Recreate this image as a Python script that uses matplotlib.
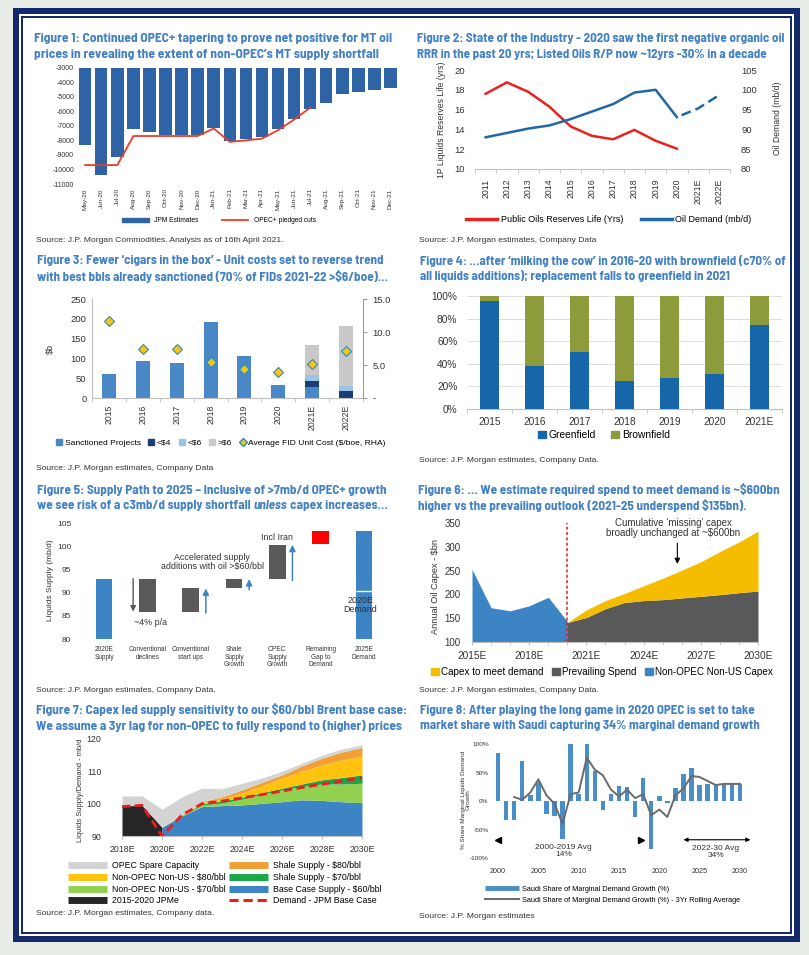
import numpy as np
import matplotlib
matplotlib.use('Agg')
import matplotlib.pyplot as plt
from matplotlib.patches import Rectangle, Patch
from matplotlib.lines import Line2D
from matplotlib import font_manager

plt.rcParams['font.family'] = ['Liberation Sans', 'DejaVu Sans']
plt.rcParams['axes.unicode_minus'] = False

# ---------------- data ----------------
f1_months = ['May-20', 'Jun-20', 'Jul-20', 'Aug-20', 'Sep-20', 'Oct-20', 'Nov-20', 'Dec-20',
             'Jan-21', 'Feb-21', 'Mar-21', 'Apr-21', 'May-21', 'Jun-21', 'Jul-21', 'Aug-21',
             'Sep-21', 'Oct-21', 'Nov-21', 'Dec-21']
f1_jpm = [-8300, -10350, -9150, -7200, -7450, -7600, -7600, -7600, -7150, -8070, -7920, -7750,
          -7250, -6500, -5870, -5430, -4830, -4670, -4560, -4400]
f1_opec = [-9700, -9700, -9700, -7700, -7700, -7700, -7700, -7700, -7180, -8100, -8000, -7880,
           -7300, -6570, -5750]

f2_years = ['2011', '2012', '2013', '2014', '2015', '2016', '2017', '2018', '2019', '2020',
            '2021E', '2022E']
f2_life = [17.6, 18.75, 17.8, 16.3, 14.3, 13.35, 13.0, 13.95, 12.85, 12.05]
f2_demand = [88.0, 89.1, 90.2, 91.0, 92.6, 94.5, 96.4, 99.3, 100.0, 93.1]
f2_demand_fc = [93.1, 95.3, 98.7]

f3_years = ['2015', '2016', '2017', '2018', '2019', '2020', '2021E', '2022E']
f3_sanctioned = [60, 94, 88, 191, 106, 33, 29, 0]
f3_lt4 = [0, 0, 0, 0, 0, 0, 13, 18]
f3_lt6 = [0, 0, 0, 0, 0, 0, 17, 13]
f3_gt6 = [0, 0, 0, 0, 0, 0, 74, 150]
f3_cost = [11.7, 7.35, 7.45, 5.5, 4.4, 3.9, 5.2, 7.05]

f4_years = ['2015', '2016', '2017', '2018', '2019', '2020', '2021E']
f4_green = [0.96, 0.383, 0.504, 0.245, 0.277, 0.307, 0.746]
f4_brown = [0.04, 0.617, 0.496, 0.755, 0.723, 0.693, 0.254]

f5_cats = ['2020E\nSupply', 'Conventional\ndeclines', 'Conventional\nstart ups',
           'Shale\nSupply\nGrowth', 'OPEC\nSupply\nGrowth', 'Remaining\nGap to\nDemand',
           '2025E\nDemand']
f5_low = [80, 85.9, 85.9, 90.9, 92.9, 100.5, 80]
f5_high = [93.0, 93.0, 90.9, 92.9, 100.3, 103.2, 103.2]
f5_2020_demand = 90.3

f6_hist_years = [2015, 2016, 2017, 2018, 2019, 2020]
f6_nonopec = [252.5, 172, 165.5, 176, 194, 143]
f6_fc_years = [2020, 2021, 2022, 2023, 2024, 2025, 2026, 2027, 2028, 2029, 2030]
f6_prevailing = [141, 151.5, 170, 183, 187, 189, 192.5, 196, 199.5, 203.7, 207]
f6_required = [141, 167.5, 187, 202, 218, 233.7, 251, 268.5, 290, 310, 333]

nan = np.nan
f7_years = [2018, 2019, 2020, 2021, 2022, 2023, 2024, 2025, 2026, 2027, 2028, 2029, 2030]
f7_jpme = [99.3, 99.5, 92.7, nan, nan, nan, nan, nan, nan, nan, nan, nan, nan]
f7_base = [nan, nan, 92.7, 96.2, 99.1, 99.4, 99.6, 100.1, 100.6, 101.2, 101.0, 100.6, 100.3]
f7_nonopec70 = [0, 0, 0, 0.1, 0.5, 0.8, 1.8, 2.8, 3.7, 4.1, 5.1, 5.5, 6.0]
f7_shale70 = [0, 0, 0, 0.1, 0.4, 0.6, 0.6, 0.5, 0.5, 0.8, 1.3, 2.0, 2.6]
f7_nonopec80 = [0, 0, 0, 0.1, 0.4, 0.7, 1.3, 2.1, 3.1, 3.9, 4.6, 5.4, 5.7]
f7_shale80 = [0, 0, 0, 0.1, 0.3, 0.6, 1.0, 1.1, 1.0, 1.7, 2.1, 2.5, 2.8]
f7_spare = [3.1, 2.9, 5.6, 5.5, 4.1, 2.5, 2.0, 1.3, 1.1, 0.8, 0.9, 0.9, 0.8]
f7_demand = [99.1, 99.5, 90.0, 96.5, 100.0, 100.8, 101.8, 102.8, 103.9, 105.0, 106.0, 107.0, 108.0]

f8_years = list(range(2000, 2031))
f8_share = [84, -33, -33, 70, 11, 33, -23, -27, -67, 100, 13, 100, 52, -15, 13, 26, 24, -28,
            40, -85, 8, -3, 22, 48, 58, 28, 30, 30, 30, 30, 30]
f8_roll_years = list(range(2002, 2031))
f8_roll = [7, 2, 15, 38, 10, -5, -40, 12, 15, 76, 55, 45, 20, 8, 20, 5, 12, -25, -15, -28,
           10, 22, 44, 42, 35, 28, 30, 30, 30]

# ---------------- layout helpers ----------------
W, H = 809, 955
fig = plt.figure(figsize=(W / 100, H / 100), dpi=100)
fig.patch.set_facecolor('#e8ede8')
R = fig.canvas.get_renderer()
TXT = '#333333'
TITLE_C = '#4381c5'

_fonts = {(f.name, f.weight) for f in font_manager.fontManager.ttflist}
if ('Liberation Sans Narrow', 700) in _fonts:
    TITLE_FONT = ['Liberation Sans Narrow', 'DejaVu Sans']
elif ('Barlow Semi Condensed', 700) in _fonts:
    TITLE_FONT = ['Barlow Semi Condensed', 'DejaVu Sans']
else:
    TITLE_FONT = ['Asap Condensed', 'Liberation Sans', 'DejaVu Sans']


def box(x0, y0, x1, y1):
    return [x0 / W, 1 - y1 / H, (x1 - x0) / W, (y1 - y0) / H]


def rect(x0, y0, x1, y1, color, z):
    fig.patches.append(Rectangle((x0 / W, 1 - y1 / H), (x1 - x0) / W, (y1 - y0) / H,
                                 transform=fig.transFigure, facecolor=color,
                                 edgecolor='none', zorder=z))


def ftext(x, y, s, size, **kw):
    kw.setdefault('color', TXT)
    kw.setdefault('va', 'center')
    return fig.text(x / W, 1 - y / H, s, fontsize=size, **kw)


def twidth(s, size, style='normal'):
    t = fig.text(0, 0, s, fontsize=size, fontweight='bold', family=TITLE_FONT, fontstyle=style)
    w = t.get_window_extent(R).width
    t.remove()
    return w


NAVY = '#13296c'
rect(13, 8, 800, 942, NAVY, -10)
rect(19, 14, 794, 936, 'white', -9)
rect(21, 16, 792, 934, NAVY, -8)
rect(23, 18, 790, 932, 'white', -7)


def fit(s, width):
    return min(10 * width / twidth(s, 10), 10.2)


def title(x, y, l1, l2, ref_line, ref_width):
    size = fit(ref_line, ref_width)
    for yy, s in ((y, l1), (y + 15.5, l2)):
        ftext(x, yy, s, size, fontweight='bold', color=TITLE_C, family=TITLE_FONT)
    return size


def plain(ax):
    for s in ax.spines.values():
        s.set_visible(False)
    ax.set_facecolor('none')


_l = ('Figure 1: Continued OPEC+ tapering to prove net positive for MT oil',
      'prices in revealing the extent of non-OPEC’s MT supply shortfall')
title(34, 39, _l[0], _l[1], _l[0], 358)
_l = ('Figure 2: State of the Industry - 2020 saw the first negative organic oil',
      'RRR in the past 20 yrs; Listed Oils R/P now ~12yrs -30% in a decade')
title(417, 39, _l[0], _l[1], _l[0], 367)
_l = ('Figure 3: Fewer ‘cigars in the box’ - Unit costs set to reverse trend',
      'with best bbls already sanctioned (70% of FIDs 2021-22 >\\$6/boe)…')
title(37, 261, _l[0], _l[1], _l[0], 347)
_l = ('Figure 4: …after ‘milking the cow’ in 2016-20 with brownfield (c70% of',
      'all liquids additions); replacement falls to greenfield in 2021')
title(420, 261, _l[0], _l[1], _l[0], 364)
# figure 5 title with italic word
_l5 = 'Figure 5: Supply Path to 2025 – Inclusive of >7mb/d OPEC+ growth'
S5 = fit(_l5, 349)
ftext(37, 490, _l5, S5, fontweight='bold', color=TITLE_C, family=TITLE_FONT)
_sp = twidth('x x', S5) - twidth('xx', S5)
_cur = 37
for _s, _st in (('we see risk of a c3mb/d supply shortfall', 'normal'), ('unless', 'italic'),
                ('capex increases…', 'normal')):
    ftext(_cur, 505.5, _s, S5, fontweight='bold', color=TITLE_C, family=TITLE_FONT,
          fontstyle=_st)
    _cur += twidth(_s, S5, _st) + _sp
_l = ('Figure 6: … We estimate required spend to meet demand is ~\\$600bn',
      'higher vs the prevailing outlook (2021-25 underspend \\$135bn).')
title(418, 490, _l[0], _l[1], _l[0], 360)
_l = ('Figure 7: Capex led supply sensitivity to our \\$60/bbl Brent base case:',
      'We assume a 3yr lag for non-OPEC to fully respond to (higher) prices')
title(36, 710, _l[0], _l[1], _l[1], 366)
_l = ('Figure 8: After playing the long game in 2020 OPEC is set to take',
      'market share with Saudi capturing 34% marginal demand growth')
title(420, 710, _l[0], _l[1], _l[1], 340)

# sources
ftext(36, 241, 'Source: J.P. Morgan Commodities. Analysis as of 16th April 2021.', 6.1)
ftext(419, 241, 'Source: J.P. Morgan estimates, Company Data', 6.1)
ftext(36, 468, 'Source: J.P. Morgan estimates, Company Data', 6.1)
ftext(419, 461, 'Source: J.P. Morgan estimates, Company Data.', 6.1)
ftext(36, 691, 'Source: J.P. Morgan estimates, Company Data.', 6.1)
ftext(419, 691, 'Source: J.P. Morgan estimates, Company Data.', 6.1)
ftext(36, 913, 'Source: J.P. Morgan estimates, Company data.', 6.1)
ftext(419, 916, 'Source: J.P. Morgan estimates', 6.1)

# ---------------- Figure 1 ----------------
C1_BAR, C1_LINE = '#2e64a6', '#ee3b24'
ax1 = fig.add_axes(box(75.5, 67.7, 398.5, 184))
plain(ax1)
x1 = np.arange(len(f1_months))
ax1.bar(x1, f1_jpm, width=0.78, color=C1_BAR)
ax1.plot(x1[:len(f1_opec)], f1_opec, color=C1_LINE, lw=1.3)
ax1.set_xlim(-0.6, len(f1_months) - 0.5)
ax1.set_ylim(-11000, -3000)
yt = list(range(-11000, -2999, 1000))
ax1.set_yticks(yt)
ax1.set_yticklabels([str(v) for v in yt])
ax1.set_xticks(x1)
ax1.set_xticklabels(f1_months, rotation=90)
ax1.tick_params(length=0, labelsize=5, colors=TXT)
ax1.tick_params(axis='y', pad=1)
ax1.tick_params(axis='x', labelsize=4.6, pad=3)
ax1.legend([Patch(color=C1_BAR), Line2D([], [], color=C1_LINE, lw=1.3)],
           ['JPM Estimates', 'OPEC+ pledged cuts'], loc='center',
           bbox_to_anchor=(219 / W, 1 - 221 / H), bbox_transform=fig.transFigure, ncol=2,
           frameon=False, fontsize=4.8, handlelength=4, handleheight=0.5, columnspacing=3.5)

# ---------------- Figure 2 ----------------
C2_RED, C2_BLUE = '#e8231d', '#1f68a6'
ax2 = fig.add_axes(box(475, 70, 730, 169))
plain(ax2)
n2 = len(f2_years)
ax2.plot(range(len(f2_life)), f2_life, color=C2_RED, lw=1.8)
ax2.set_xlim(-0.5, n2 - 0.5)
ax2.set_ylim(10, 20)
ax2.set_yticks(range(10, 21, 2))
ax2.set_xticks(range(n2))
ax2.set_xticklabels(f2_years, rotation=90)
ax2.set_xticks(np.arange(-0.5, n2), minor=True)
ax2.spines['bottom'].set_visible(True)
ax2.spines['bottom'].set_color('#bfbfbf')
ax2.tick_params(axis='x', which='major', length=0, labelsize=6.3, colors=TXT, pad=7)
ax2.tick_params(axis='x', which='minor', length=3, color='#bfbfbf')
ax2.tick_params(axis='y', length=0, labelsize=6.8, colors=TXT, pad=7)
ax2b = ax2.twinx()
plain(ax2b)
ax2b.plot(range(len(f2_demand)), f2_demand, color=C2_BLUE, lw=1.8)
ax2b.plot(range(len(f2_demand) - 1, n2), f2_demand_fc, color=C2_BLUE, lw=1.8,
          linestyle=(4, (4, 2)))
ax2b.set_ylim(80, 105)
ax2b.set_yticks(range(80, 106, 5))
ax2b.tick_params(axis='y', length=0, labelsize=6.8, colors=TXT, pad=8)
ftext(441, 120, '1P Liquids Reserves Life (yrs)', 6.2, rotation=90, ha='center')
ftext(777, 118, 'Oil Demand (mb/d)', 6.2, rotation=90, ha='center')
ax2.legend([Line2D([], [], color=C2_RED, lw=2.5), Line2D([], [], color=C2_BLUE, lw=2.5)],
           ['Public Oils Reserves Life (Yrs)', 'Oil Demand (mb/d)'], loc='center',
           bbox_to_anchor=(609 / W, 1 - 220 / H), bbox_transform=fig.transFigure, ncol=2,
           frameon=False, fontsize=6.5, handlelength=3.4, columnspacing=2.0,
           handletextpad=0.4)

# ---------------- Figure 3 ----------------
C3 = ['#4a87c6', '#1b3d73', '#9dc3e6', '#c9c9c9']
C3_DIA, C3_DIA_E = '#f5c518', '#2a8cc0'
ax3 = fig.add_axes(box(92, 299, 363, 398))
plain(ax3)
x3 = np.arange(len(f3_years))
bot = np.zeros(len(x3))
for vals, col in zip((f3_sanctioned, f3_lt4, f3_lt6, f3_gt6), C3):
    ax3.bar(x3, vals, 0.41, bottom=bot, color=col)
    bot = bot + np.array(vals)
ax3.set_xlim(-0.5, len(x3) - 0.5)
ax3.set_ylim(0, 250)
ax3.set_yticks(range(0, 251, 50))
ax3.set_xticks(x3)
ax3.set_xticklabels(f3_years, rotation=90)
ax3.set_xticks(np.arange(-0.5, len(x3)), minor=True)
for s in ('left', 'bottom'):
    ax3.spines[s].set_visible(True)
    ax3.spines[s].set_color('#bfbfbf')
ax3.tick_params(axis='y', length=0, labelsize=6.8, colors=TXT, pad=4)
ax3.tick_params(axis='x', which='major', length=0, labelsize=6.2, colors=TXT, pad=5)
ax3.tick_params(axis='x', which='minor', length=3, color='#bfbfbf')
ax3b = ax3.twinx()
plain(ax3b)
ax3b.spines['right'].set_visible(True)
ax3b.spines['right'].set_color('#9a9a9a')
ax3b.plot(x3, f3_cost, linestyle='none', marker='D', ms=5, mfc=C3_DIA, mec=C3_DIA_E, mew=0.8)
ax3b.set_ylim(0, 15)
ax3b.set_yticks([0, 5, 10, 15])
ax3b.set_yticklabels(['-', '5.0', '10.0', '15.0'])
ax3b.tick_params(axis='y', length=3, color='#9a9a9a', labelsize=6.8, colors=TXT, pad=4)
ftext(50, 349, '\\$b', 6.5, rotation=90, ha='center')
ax3.legend([Patch(color=c) for c in C3] +
           [Line2D([], [], linestyle='none', marker='D', ms=4, mfc=C3_DIA, mec=C3_DIA_E)],
           ['Sanctioned Projects', '<\\$4', '<\\$6', '>\\$6',
            'Average FID Unit Cost (\\$/boe, RHA)'], loc='center',
           bbox_to_anchor=(221 / W, 1 - 443 / H), bbox_transform=fig.transFigure, ncol=5,
           frameon=False, fontsize=6.1, handlelength=0.7, handleheight=0.7,
           columnspacing=0.9, handletextpad=0.3)

# ---------------- Figure 4 ----------------
C4_G, C4_B = '#1766a9', '#8d9b3a'
ax4 = fig.add_axes(box(467, 296, 782, 409))
plain(ax4)
x4 = np.arange(len(f4_years))
ax4.bar(x4, f4_green, 0.44, color=C4_G, zorder=3)
ax4.bar(x4, f4_brown, 0.44, bottom=f4_green, color=C4_B, zorder=3)
ax4.set_xlim(-0.5, len(x4) - 0.5)
ax4.set_ylim(0, 1)
ax4.set_yticks(np.arange(0, 1.01, 0.2))
ax4.set_yticklabels(['0%', '20%', '40%', '60%', '80%', '100%'])
ax4.set_xticks(x4)
ax4.set_xticklabels(f4_years)
ax4.set_xticks(np.arange(-0.5, len(x4)), minor=True)
ax4.yaxis.grid(True, color='#d9d9d9', lw=0.6, zorder=0)
ax4.spines['bottom'].set_visible(True)
ax4.spines['bottom'].set_color('#bfbfbf')
ax4.tick_params(axis='y', length=0, labelsize=7.3, colors=TXT, pad=7)
ax4.tick_params(axis='x', which='major', length=0, labelsize=7.3, colors=TXT, pad=6)
ax4.tick_params(axis='x', which='minor', length=3, color='#bfbfbf')
ax4.legend([Patch(color=C4_G), Patch(color=C4_B)], ['Greenfield', 'Brownfield'],
           loc='center', bbox_to_anchor=(604 / W, 1 - 435 / H),
           bbox_transform=fig.transFigure, ncol=2, frameon=False, fontsize=7.4,
           handlelength=0.7, handleheight=0.7, columnspacing=1.5, handletextpad=0.3)

# ---------------- Figure 5 ----------------
C5_BLUE, C5_GRAY, C5_RED = '#3d84c4', '#595959', '#ff0000'
ax5 = fig.add_axes(box(82.5, 523, 385.5, 639))
plain(ax5)
x5 = np.arange(len(f5_cats))
c5 = [C5_BLUE, C5_GRAY, C5_GRAY, C5_GRAY, C5_GRAY, C5_RED, C5_BLUE]
ax5.bar(x5, np.array(f5_high) - np.array(f5_low), 0.38, bottom=f5_low, color=c5)
ax5.hlines(f5_2020_demand, x5[-1] - 0.19, x5[-1] + 0.19, color='white', lw=1)
ax5.set_xlim(-0.5, len(x5) - 0.5)
ax5.set_ylim(80, 105)
ax5.set_yticks(range(80, 106, 5))
ax5.set_xticks(x5)
ax5.set_xticklabels(f5_cats, linespacing=1.15)
ax5.tick_params(axis='y', length=0, labelsize=6, colors=TXT, pad=8)
ax5.tick_params(axis='x', length=0, labelsize=4.7, colors=TXT, pad=5)
ax5.annotate('', xy=(1 - 0.33, f5_low[1]), xytext=(1 - 0.33, f5_high[1]),
             arrowprops=dict(arrowstyle='-|>', color=C5_GRAY, lw=1, mutation_scale=8,
                             shrinkA=0, shrinkB=0))
for i in (2, 3, 4):
    ax5.annotate('', xy=(i + 0.35, f5_high[i]), xytext=(i + 0.35, f5_low[i] - 0.3),
                 arrowprops=dict(arrowstyle='-|>', color=C5_BLUE, lw=1.1, mutation_scale=9,
                                 shrinkA=0, shrinkB=0))
ax5.text(4, 101.9, 'Incl Iran', fontsize=6.4, color=TXT, ha='center', va='center')
ax5.text(2.5, 96.6, 'Accelerated supply\nadditions with oil >\\$60/bbl', fontsize=6.4,
         color=TXT, ha='center', va='center', linespacing=1.0)
ax5.text(1.07, 83.5, '~4% p/a', fontsize=6.4, color=TXT, ha='center', va='center')
ax5.text(5.92, 87.4, '2020E\nDemand', fontsize=6.4, color=TXT, ha='center', va='center',
         linespacing=1.0)
ftext(51, 580, 'Liquids Supply (mb/d)', 6, rotation=90, ha='center')

# ---------------- Figure 6 ----------------
C6_Y, C6_G, C6_B = '#f5bd00', '#595959', '#3d84c4'
ax6 = fig.add_axes(box(472, 523, 758, 642))
plain(ax6)
ax6.fill_between(f6_hist_years, 100, f6_nonopec, color=C6_B, lw=0)
ax6.fill_between(f6_fc_years, 100, f6_prevailing, color=C6_G, lw=0)
ax6.fill_between(f6_fc_years, f6_prevailing, f6_required, color=C6_Y, lw=0)
ax6.axvline(f6_fc_years[0], color='#e02020', lw=1.1, dashes=(2, 1.5))
ax6.set_xlim(2015, 2030)
ax6.set_ylim(100, 350)
ax6.set_yticks(range(100, 351, 50))
ax6.set_xticks(range(2015, 2031, 3))
ax6.set_xticklabels([f'{y}E' for y in range(2015, 2031, 3)])
ax6.set_xticks(range(2015, 2031), minor=True)
ax6.spines['bottom'].set_visible(True)
ax6.spines['bottom'].set_color('#bfbfbf')
ax6.tick_params(axis='y', length=0, labelsize=7, colors=TXT, pad=8)
ax6.tick_params(axis='x', which='major', length=2.5, color='#bfbfbf', labelsize=7.3,
                colors=TXT, pad=4)
ax6.tick_params(axis='x', which='minor', length=2.5, color='#bfbfbf')
ax6.text(2025.56, 340, 'Cumulative ‘missing’ capex\nbroadly unchanged at ~\\$600bn',
         fontsize=7, color=TXT, ha='center', va='center', linespacing=1.0)
ax6.annotate('', xy=(2025.77, 264), xytext=(2025.77, 308),
             arrowprops=dict(arrowstyle='-|>', color='black', lw=0.8, mutation_scale=8,
                             shrinkA=0, shrinkB=0))
ftext(436, 587, 'Annual Oil Capex - \\$bn', 6.6, rotation=90, ha='center')
ax6.legend([Patch(color=C6_Y), Patch(color=C6_G), Patch(color=C6_B)],
           ['Capex to meet demand', 'Prevailing Spend', 'Non-OPEC Non-US Capex'],
           loc='center', bbox_to_anchor=(602 / W, 1 - 672 / H),
           bbox_transform=fig.transFigure, ncol=3, frameon=False, fontsize=7.1,
           handlelength=0.8, handleheight=0.8, columnspacing=0.9, handletextpad=0.2)

# ---------------- Figure 7 ----------------
C7 = dict(spare='#d3d3d3', shale80='#f0a035', non80='#ffc20e', shale70='#1aa64a',
          non70='#92d050', base='#3d84c4', jpme='#262626', dem='#ee1c1c')
ax7 = fig.add_axes(box(122, 739, 362, 836))
plain(ax7)
yrs7 = np.array(f7_years, dtype=float)
jp = np.array(f7_jpme)
bs = np.array(f7_base)
m_j = ~np.isnan(jp)
m_b = ~np.isnan(bs)
ax7.fill_between(yrs7[m_j], 90, jp[m_j], color=C7['jpme'], lw=0)
ax7.fill_between(yrs7[m_b], 90, bs[m_b], color=C7['base'], lw=0)
cum = np.where(m_j, jp, bs)
for key, vals in (('non70', f7_nonopec70), ('shale70', f7_shale70), ('non80', f7_nonopec80),
                  ('shale80', f7_shale80), ('spare', f7_spare)):
    top = cum + np.array(vals)
    ax7.fill_between(yrs7, cum, top, color=C7[key], lw=0)
    cum = top
ax7.plot(yrs7, f7_demand, color=C7['dem'], lw=2, dashes=(3, 1.6))
ax7.set_xlim(2018, 2030)
ax7.set_ylim(90, 120)
ax7.set_yticks(range(90, 121, 10))
ax7.set_xticks(range(2018, 2031, 2))
ax7.set_xticklabels([f'{y}E' for y in range(2018, 2031, 2)])
ax7.spines['bottom'].set_visible(True)
ax7.spines['bottom'].set_color('#bfbfbf')
ax7.tick_params(axis='y', length=0, labelsize=6.3, colors=TXT, pad=15)
ax7.tick_params(axis='x', length=2.5, color='#bfbfbf', labelsize=6.3, colors=TXT, pad=4)
ftext(80, 790, 'Liquids Supply/Demand - mb/d', 5.4, rotation=90, ha='center')


def lh(c):
    return Line2D([], [], color=c, lw=5, solid_capstyle='butt')


leg7a = ax7.legend([lh(C7['spare']), lh(C7['non80']), lh(C7['non70']), lh(C7['jpme'])],
                   ['OPEC Spare Capacity', 'Non-OPEC Non-US - \\$80/bbl',
                    'Non-OPEC Non-US - \\$70/bbl', '2015-2020 JPMe'],
                   loc='upper left', bbox_to_anchor=(64 / W, 1 - 857 / H),
                   bbox_transform=fig.transFigure, frameon=False, fontsize=6.3,
                   handlelength=4.4, labelspacing=0.3, handletextpad=0.6, borderpad=0)
ax7.add_artist(leg7a)
ax7.legend([lh(C7['shale80']), lh(C7['shale70']), lh(C7['base']),
            Line2D([], [], color=C7['dem'], lw=2.2, dashes=(3, 1.6))],
           ['Shale Supply - \\$80/bbl', 'Shale Supply - \\$70/bbl',
            'Base Case Supply - \\$60/bbl', 'Demand - JPM Base Case'],
           loc='upper left', bbox_to_anchor=(225 / W, 1 - 857 / H),
           bbox_transform=fig.transFigure, frameon=False, fontsize=6.3,
           handlelength=4.4, labelspacing=0.3, handletextpad=0.6, borderpad=0)

# ---------------- Figure 8 ----------------
C8_B, C8_L = '#4a8ec7', '#6a6a6a'
ax8 = fig.add_axes(box(490, 744, 748, 858))
plain(ax8)
ax8.bar(f8_years, f8_share, 0.55, color=C8_B)
ax8.plot(f8_roll_years, f8_roll, color=C8_L, lw=1.4)
ax8.set_xlim(1999, 2031)
ax8.set_ylim(-100, 100)
ax8.set_yticks(range(-100, 101, 50))
ax8.set_yticklabels(['-100%', '-50%', '0%', '50%', '100%'])
ax8.set_xticks(range(2000, 2031, 5))
ax8.tick_params(axis='y', length=0, labelsize=4.6, colors=TXT, pad=1)
ax8.tick_params(axis='x', length=0, labelsize=5.2, colors=TXT, pad=7)
ax8.plot([2000], [-68], marker='<', color='black', ms=4, clip_on=False)
ax8.plot([2017.7], [-68], marker='>', color='black', ms=4, clip_on=False)
ax8.annotate('', xy=(2031.3, -68), xytext=(2023, -68), annotation_clip=False,
             arrowprops=dict(arrowstyle='<|-|>', color='black', lw=0.8, mutation_scale=6,
                             shrinkA=0, shrinkB=0))
ax8.text(2008.1, -88, '2000-2019 Avg\n14%', fontsize=6, color=TXT, ha='center', va='center',
         linespacing=1.0)
ax8.text(2027, -90, '2022-30 Avg\n34%', fontsize=6, color=TXT, ha='center', va='center',
         linespacing=1.0)
ftext(466, 800, '% Share Marginal Liquids Demand\nGrowth', 4.6, rotation=90, ha='center',
      linespacing=1.0)
ax8.legend([Line2D([], [], color=C8_B, lw=3.5, solid_capstyle='butt'),
            Line2D([], [], color=C8_L, lw=1.4)],
           ['Saudi Share of Marginal Demand Growth (%)',
            'Saudi Share of Marginal Demand Growth (%) - 3Yr Rolling Average'],
           loc='upper left', bbox_to_anchor=(481 / W, 1 - 882 / H),
           bbox_transform=fig.transFigure, frameon=False, fontsize=5.3,
           handlelength=4.6, labelspacing=0.55, handletextpad=0.5, borderpad=0)

fig.savefig('out.png', dpi=100, facecolor=fig.get_facecolor())
